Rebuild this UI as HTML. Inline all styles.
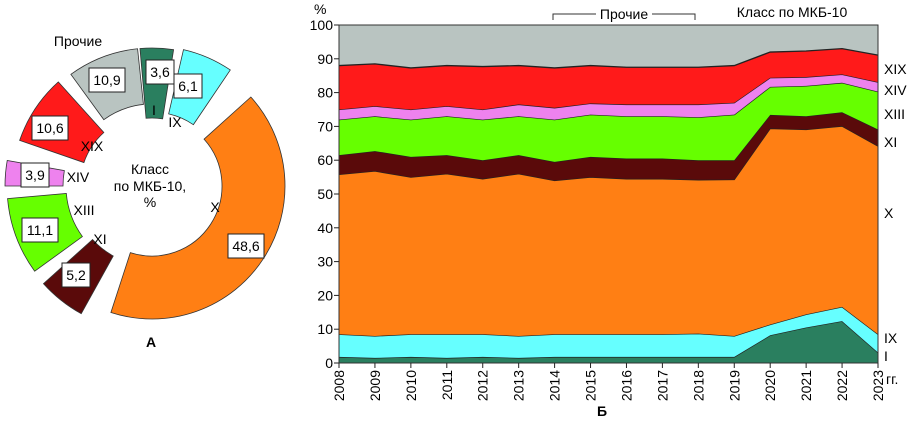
<!DOCTYPE html>
<html><head><meta charset="utf-8"><style>
body{margin:0;background:#fff;}
svg{display:block;font-family:"Liberation Sans",Arial,sans-serif;}
</style></head><body>
<svg id="svg" width="915" height="423" viewBox="0 0 915 423">
<g id="donut"></g>
<g id="area"></g>
</svg>
<script>
const NS='http://www.w3.org/2000/svg';
function mk(tag,attrs,parent,txt){const e=document.createElementNS(NS,tag);for(const k in attrs)e.setAttribute(k,attrs[k]);if(txt!==undefined)e.textContent=txt;parent.appendChild(e);return e;}

// ---------- Donut data ----------
const donutClasses=['I','IX','X','XI','XIII','XIV','XIX','Прочие'];
const donutValues=[3.6,6.1,48.6,5.2,11.1,3.9,10.6,10.9];
const donutLabels=['3,6','6,1','48,6','5,2','11,1','3,9','10,6','10,9'];
const donutColors=['#2a7f5f','#66ffff','#ff7f14','#5a0a0a','#66ff00','#ee82ee','#ff1a1a','#b9c4c1'];
const dg=document.getElementById('donut');
const cx=152,cy=186;
// layout geometry (as drawn in the source figure)
const angFrom=[-5,13,48,209,234,270,289,324];
const angTo=[9,34,198,228,265,280,318,354];
const rIn=[68,74,70,80,86,89,72,82],rOut=[138,140,133,146,145,147,140,138];
const boxPos=[[160,72],[188,86],[246,246],[76,275],[40,230],[35,175],[50,128],[107,80]];
const namePos=[[154,115],[175,127],[215,212],[100,244],[84,215],[78,182],[92,151],[78,46]];
function pt(r,deg){const a=(deg-90)*Math.PI/180;return [cx+r*Math.cos(a),cy+r*Math.sin(a)];}
donutValues.forEach((v,i)=>{
  const a0=angFrom[i],a1=angTo[i];
  const large=(a1-a0)>180?1:0;
  const p0=pt(rOut[i],a0),p1=pt(rOut[i],a1),p2=pt(rIn[i],a1),p3=pt(rIn[i],a0);
  const d=`M${p0[0]},${p0[1]} A${rOut[i]},${rOut[i]} 0 ${large} 1 ${p1[0]},${p1[1]} L${p2[0]},${p2[1]} A${rIn[i]},${rIn[i]} 0 ${large} 0 ${p3[0]},${p3[1]} Z`;
  const s=mk('path',{d:d,fill:donutColors[i],stroke:'#333','stroke-width':0.8},dg);
  
  
});
donutValues.forEach((v,i)=>{
  const lp=boxPos[i];
  const w=donutLabels[i].length>3?36:28;
  const bx=mk('rect',{x:lp[0]-w/2,y:lp[1]-12,width:w,height:24,fill:'#fff',stroke:'#222','stroke-width':1},dg);
  
  
  const t=mk('text',{x:lp[0],y:lp[1]+5,'text-anchor':'middle','font-size':14},dg,donutLabels[i]);
  
  
  const nt=mk('text',{x:namePos[i][0],y:namePos[i][1],'text-anchor':'middle','font-size':14},dg,donutClasses[i]);
  
  
});
[['Класс',150,174],['по МКБ-10,',150,191],['%',150,207]].forEach(a=>{const t=mk('text',{x:a[1],y:a[2],'text-anchor':'middle','font-size':14},dg,a[0]);});
const ta=mk('text',{x:151,y:347,'text-anchor':'middle','font-size':14,'font-weight':'bold'},dg,'А');


// ---------- Area chart data ----------
const years=[2008,2009,2010,2011,2012,2013,2014,2015,2016,2017,2018,2019,2020,2021,2022,2023];
const yTicks=[0,10,20,30,40,50,60,70,80,90,100];
const sI=[1.8,1.5,1.8,1.5,1.8,1.5,1.8,1.8,1.8,1.8,1.8,1.8,8.2,10.5,12.4,3.1];
const sIX=[6.7,6.5,6.7,7,6.7,6.5,6.7,6.7,6.7,6.7,6.9,6.2,3.2,3.9,4.2,5.4];
const sX=[47.3,48.8,46.5,47.5,46,48,45.5,46.5,46,46,45.5,46.3,58,54.7,53.5,55.7];
const sXI=[5.7,5.9,6,5.5,5.5,5.5,5.5,6,6,6,5.8,5.7,4,3.9,4.1,4.9];
const sXIII=[10.5,10.3,11,11.5,12,11.5,12.5,12.5,12.5,12.5,12.7,13.5,8.3,9,8.7,11.2];
const sXIV=[3,3,3,3,3,3.5,3.5,3.3,3.5,3.5,3.8,3.5,2.7,2.6,2.5,2.8];
const sXIX=[13,12.5,12.3,12,12.7,11.5,11.8,11.2,11,11,11,11,7.6,7.7,7.6,8];
const seriesNames=['I','IX','X','XI','XIII','XIV','XIX'];
const seriesVals=[sI,sIX,sX,sXI,sXIII,sXIV,sXIX];
const seriesColors=['#2a7f5f','#66ffff','#ff7f14','#5a0a0a','#66ff00','#ee82ee','#ff1a1a'];
const ag=document.getElementById('area');
const X0=339,X1=878,Y0=363,Y1=25;
const xs=i=>X0+(X1-X0)*(years[i]-years[0])/(years[years.length-1]-years[0]);
const ys=v=>Y0-(Y0-Y1)*v/100;
const bg=mk('rect',{x:X0,y:Y1,width:X1-X0,height:Y0-Y1,fill:'#b9c4c1'},ag);

let base=years.map(()=>0);
seriesVals.forEach((vals,k)=>{
  const top=base.map((b,i)=>b+vals[i]);
  let d='M'+years.map((y,i)=>xs(i)+','+ys(top[i])).join(' L');
  for(let i=years.length-1;i>=0;i--)d+=' L'+xs(i)+','+ys(base[i]);
  d+='Z';
  const p=mk('path',{d:d,fill:seriesColors[k]},ag);
  
  
  const l=mk('polyline',{points:years.map((y,i)=>xs(i)+','+ys(top[i])).join(' '),fill:'none',stroke:'#222','stroke-width':1.3},ag);
  
  
  base=top;
});
const fr=mk('rect',{x:X0,y:Y1,width:X1-X0,height:Y0-Y1,fill:'none',stroke:'#333','stroke-width':1},ag);

yTicks.forEach(v=>{
  const ln=mk('line',{x1:X0-5,x2:X0,y1:ys(v),y2:ys(v),stroke:'#222'},ag);
  
  const t=mk('text',{x:X0-6,y:ys(v)+5,'text-anchor':'end','font-size':14},ag,String(v));
  
});
years.forEach((y,i)=>{
  const ln=mk('line',{x1:xs(i),x2:xs(i),y1:Y0,y2:Y0+5,stroke:'#222'},ag);
  
  const t=mk('text',{x:0,y:0,'text-anchor':'end','font-size':14,transform:`translate(${xs(i)+5},${Y0+7}) rotate(-90)`},ag,String(y));
  
});
const misc=[['%',314,14,'start',14],['Класс по МКБ-10',792,17,'middle',14],['Прочие',624,19,'middle',14],['XIX',884,74,'start',14],['XIV',884,95,'start',14],['XIII',884,119,'start',14],['XI',884,147,'start',14],['X',884,218,'start',14],['IX',884,343,'start',14],['I',884,361,'start',14],['гг.',886,384,'start',14]];
misc.forEach(a=>{const t=mk('text',{x:a[1],y:a[2],'text-anchor':a[3],'font-size':a[4]},ag,a[0]);});
const br=mk('path',{d:'M553,20 L553,14 L596,14 M652,14 L695,14 L695,20',fill:'none',stroke:'#333','stroke-width':1},ag);

const tb=mk('text',{x:602,y:416,'text-anchor':'middle','font-size':14,'font-weight':'bold'},ag,'Б');

</script>
</body></html>
